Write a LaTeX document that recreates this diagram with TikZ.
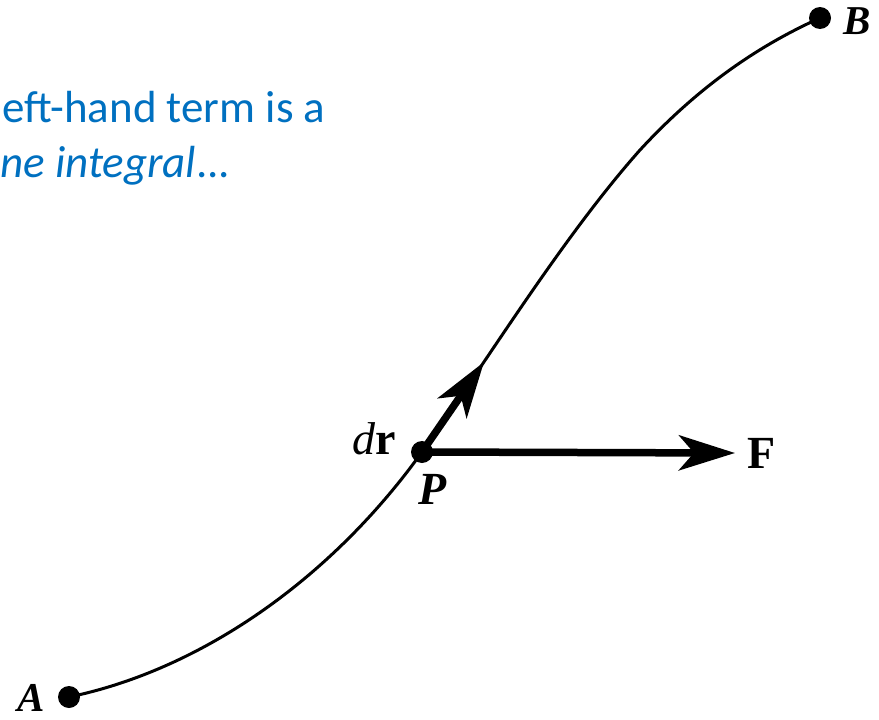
\documentclass[tikz,border=0pt]{standalone}
\usepackage{fontspec}
\setmainfont{Carlito}
\newfontfamily\figfont{Liberation Serif}
\usetikzlibrary{arrows.meta}
\definecolor{txtblue}{RGB}{0,112,192}
\begin{document}
\begin{tikzpicture}[x=1pt,y=-1pt,
  dot/.style={circle,fill=black,inner sep=0pt,minimum size=22pt},
  lbl/.style={font=\fontsize{46}{50}\figfont\bfseries\itshape,inner sep=0pt},
  edgelbl/.style={font=\fontsize{41}{44}\figfont\bfseries\itshape,inner sep=0pt},
  blue/.style={font=\fontsize{45}{54}\selectfont,text=txtblue,inner sep=0pt},
  vec/.style={line width=7.5pt,-{Stealth[length=56pt,width=35pt,inset=15pt]}},
  path/.style={line width=3pt}
]
\useasboundingbox (0,0) rectangle (879,720);
% blue text
\node[blue,anchor=base west] (t1) at (2,122) {eft-hand term is a};
\node[blue,anchor=base west] (t2) at (0,177) {\itshape ne integral\upshape...};
% points
\coordinate (Ac) at (69,697);
\coordinate (Pc) at (422,452);
\coordinate (Bc) at (820,18);
\coordinate (drtip) at (484,362);
\coordinate (Ftip) at (735,453);
% curve
\draw[path] (Ac) .. controls (200,670) and (330,580) .. (Pc)
  .. controls (480,372) and (560,240) .. (640,150)
  .. controls (700,85) and (760,45) .. (Bc);
% vectors
\draw[vec] (Pc) -- (drtip);
\draw[vec] (Pc) -- (Ftip);
% dots
\node[dot] (A) at (Ac) {};
\node[dot] (P) at (Pc) {};
\node[dot] (B) at (Bc) {};
% labels
\node[edgelbl] (Alab) at (31,698) {A};
\node[edgelbl] (Blab) at (857,21) {B};
\node[lbl] (Plab) at (433,489) {P};
\node[inner sep=0pt,font=\fontsize{46}{50}\figfont] (drlab) at (374,439) {\itshape d\upshape\bfseries r};
\node[inner sep=0pt,font=\fontsize{46}{50}\figfont\bfseries] (Flab) at (762,453) {F};
\end{tikzpicture}
\end{document}
